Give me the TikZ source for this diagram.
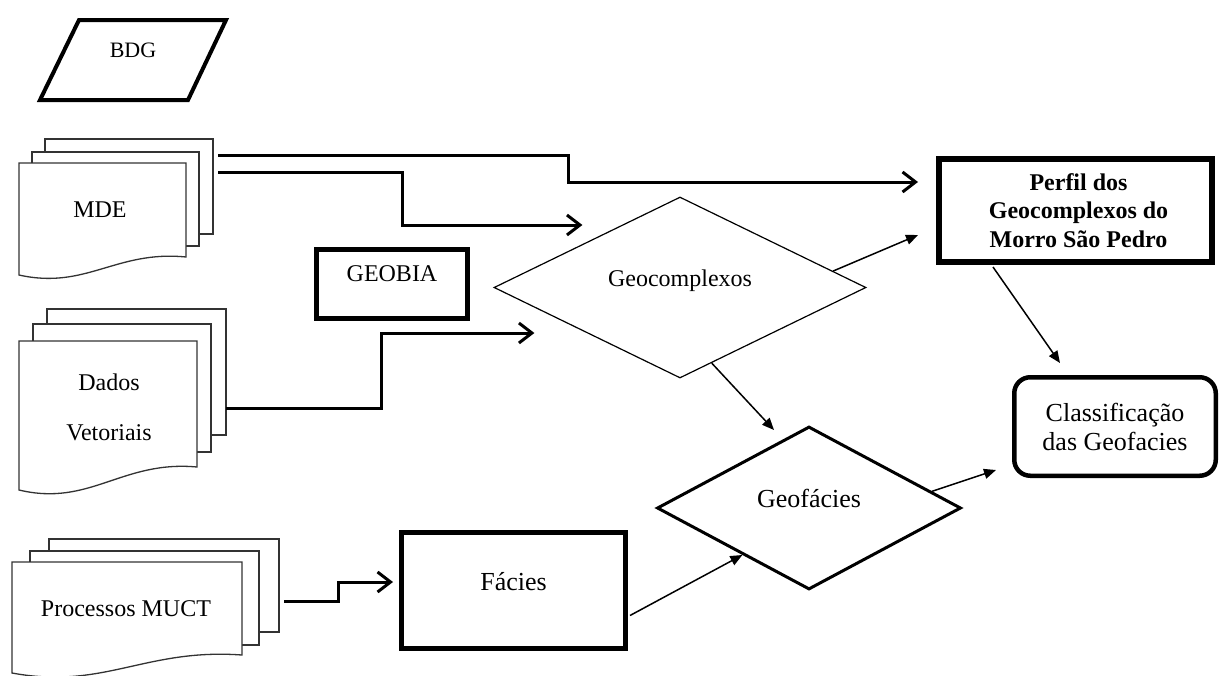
\documentclass[tikz,border=0pt]{standalone}
\usepackage{fontspec}
\setmainfont{Liberation Serif}
\usetikzlibrary{arrows.meta,calc,shapes.geometric}
\begin{document}
\begin{tikzpicture}[x=1pt,y=-1pt,
  doc/.style={draw=black!80, line width=1.3pt, fill=white},
  txt/.style={font=\fontsize{24}{28}\selectfont, inner sep=0pt, align=center},
  bigtxt/.style={font=\fontsize{26}{29}\selectfont, inner sep=0pt, align=center},
  stackbox/.style={rectangle, inner sep=0pt, draw=none},
  thickbox/.style={draw, rectangle, fill=white, inner sep=0pt, align=center},
  dia/.style={draw, diamond, fill=white, inner sep=0pt},
  elbow/.style={line width=3pt, -{Straight Barb[length=13pt,width=20pt]}},
  thinarrow/.style={line width=1.5pt, -{Triangle[length=12pt,width=10pt]}}]
\useasboundingbox (0,0) rectangle (1220,675);

% BDG
\draw[line width=4pt, line join=miter] (79,20) -- (226,20) -- (188,100) -- (40,100) -- cycle;
\node[font=\fontsize{22}{26}\selectfont, inner sep=0pt] (bdg) at (133,50) {BDG};

% MDE stack
\draw[doc] (45,139) rectangle (213,234);
\draw[doc] (32,152) rectangle (199,246);
\draw[doc] (19,163) -- (19,275) .. controls (86,290) and (116,250) .. (186,257) -- (186,163) -- cycle;
\node[txt] (mdet) at (100,210) {MDE};
\node[stackbox, minimum width=194pt, minimum height=141pt] (mde) at (116,209.5) {};

% Dados Vetoriais stack
\draw[doc] (47,309) rectangle (226,435);
\draw[doc] (33,324) rectangle (211,452);
\draw[doc] (19,341) -- (19,490) .. controls (90,507) and (122,460) .. (197,467) -- (197,341) -- cycle;
\node[txt] (dadost) at (109,407) {Dados\\[22pt]Vetoriais};
\node[stackbox, minimum width=207pt, minimum height=198pt] (dados) at (122.5,408) {};

% Processos MUCT stack
\draw[doc] (49,539) rectangle (279,632);
\draw[doc] (30,551) rectangle (259,645);
\draw[doc] (12,562) -- (12,673) .. controls (104,690) and (145,648) .. (242,655) -- (242,562) -- cycle;
\node[txt] (proct) at (126,609) {Processos MUCT};
\node[stackbox, minimum width=267pt, minimum height=124pt] (proc) at (145.5,601) {};

% boxes
\node[thickbox, line width=5pt, minimum width=151pt, minimum height=69pt, txt] (geobia) at (392,284) {\raisebox{20pt}{GEOBIA}};
\node[thickbox, line width=5pt, minimum width=224pt, minimum height=116pt, bigtxt] (facies) at (513.5,590.5) {\raisebox{18pt}{Fácies}};
\node[thickbox, line width=6pt, minimum width=273pt, minimum height=103pt,
      font=\fontsize{24}{28.5}\selectfont\bfseries] (perfil) at (1075.5,210.5)
      {\hspace*{6pt}Perfil dos\\\hspace*{6pt}Geocomplexos do\\\hspace*{6pt}Morro São Pedro};
\node[thickbox, line width=4.5pt, rounded corners=16pt, minimum width=201.5pt, minimum height=98.5pt, bigtxt] (classif) at (1115,426.5)
      {Classificação\\das Geofacies};

% diamonds
\node[dia, line width=1.2pt, minimum width=372pt, minimum height=181pt, txt] (geocx) at (680,287.5) {\raisebox{19pt}{Geocomplexos}};
\node[dia, line width=3pt, minimum width=304pt, minimum height=163pt, bigtxt] (geofac) at (809,508) {\raisebox{20pt}{Geofácies}};

% elbow arrows
\draw[elbow] ($(mde.north east)+(5,17)$) -- ++(350,0) |- ($(perfil.west)+(-18,-28.5)$);
\draw[elbow] ($(mde.north east)+(5,34)$) -- ++(184,0) |- ($(geocx.west)+(89,-62.5)$);
\draw[elbow] (dados.east) -- ++(155,0) |- ($(geocx.west)+(41,45.5)$);
\draw[elbow] ($(proc.east)+(5,0)$) -- ++(54,0) |- ($(facies.west)+(-6,-8.5)$);

% thin arrows
\draw[thinarrow] ($(geocx.east)!0.18!(geocx.north)$) -- ($(perfil.south west)+(-18,-30)$);
\draw[thinarrow] ($(geocx.south)!0.17!(geocx.east)$) -- ($(geofac.north)+(-35,5)$);
\draw[thinarrow] ($(perfil.south west)+(57,2)$) -- ($(classif.north west)+(48,-12)$);
\draw[thinarrow] ($(facies.east)+(2,25)$) -- ($(geofac.west)!0.566!(geofac.south)$);
\draw[thinarrow] ($(geofac.north)!0.8!(geofac.east)$) -- ($(classif.west)+(-16,43.5)$);
\end{tikzpicture}
\end{document}
